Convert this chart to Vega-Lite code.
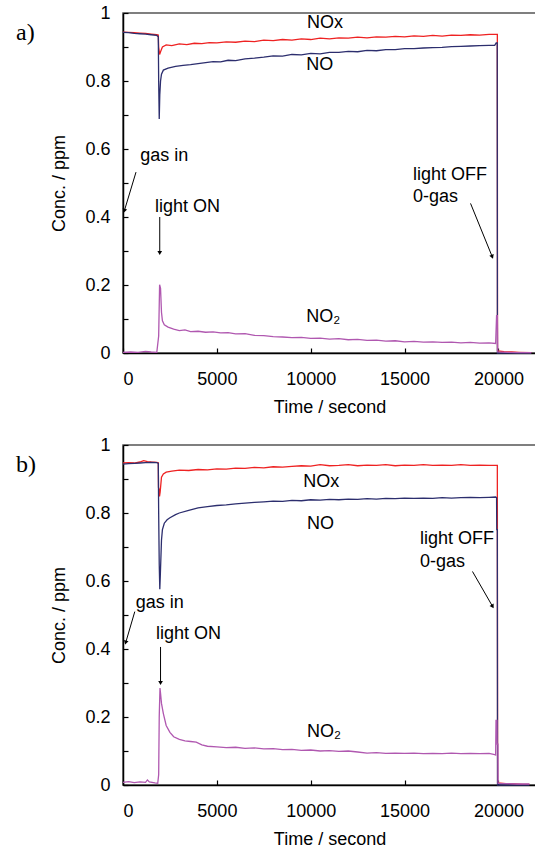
{
  "$schema": "https://vega.github.io/schema/vega-lite/v6.json",
  "padding": {"left": 15, "top": 3, "right": 0, "bottom": 5},
  "spacing": 18,
  "config": {
    "font": "Liberation Sans",
    "view": {"stroke": "#555", "strokeWidth": 1.5},
    "axis": {"grid": false, "domainColor": "#000", "domainWidth": 1.5, "tickColor": "#000", "tickWidth": 1.2, "tickSize": -5, "labelFont": "Liberation Sans", "labelFontSize": 18, "labelColor": "#000", "titleFont": "Liberation Sans", "titleFontSize": 18, "titleFontWeight": "normal", "titleColor": "#000"},
    "text": {"font": "Liberation Sans", "fontSize": 18, "color": "#000"}
  },
  "datasets": {
    "series": [
      {"panel":"a","series":"NOx","t":0,"c":0.944},{"panel":"a","series":"NOx","t":300,"c":0.943},{"panel":"a","series":"NOx","t":600,"c":0.942},{"panel":"a","series":"NOx","t":900,"c":0.941},{"panel":"a","series":"NOx","t":1200,"c":0.940},{"panel":"a","series":"NOx","t":1500,"c":0.938},{"panel":"a","series":"NOx","t":1800,"c":0.936},{"panel":"a","series":"NOx","t":1880,"c":0.935},{"panel":"a","series":"NOx","t":1900,"c":0.900},{"panel":"a","series":"NOx","t":1950,"c":0.878},{"panel":"a","series":"NOx","t":2000,"c":0.886},{"panel":"a","series":"NOx","t":2100,"c":0.900},{"panel":"a","series":"NOx","t":2300,"c":0.906},{"panel":"a","series":"NOx","t":2600,"c":0.904},{"panel":"a","series":"NOx","t":3000,"c":0.909},{"panel":"a","series":"NOx","t":3400,"c":0.907},{"panel":"a","series":"NOx","t":3800,"c":0.911},{"panel":"a","series":"NOx","t":4200,"c":0.910},{"panel":"a","series":"NOx","t":4600,"c":0.913},{"panel":"a","series":"NOx","t":5000,"c":0.912},{"panel":"a","series":"NOx","t":5500,"c":0.915},{"panel":"a","series":"NOx","t":6000,"c":0.914},{"panel":"a","series":"NOx","t":6500,"c":0.917},{"panel":"a","series":"NOx","t":7000,"c":0.916},{"panel":"a","series":"NOx","t":7500,"c":0.920},{"panel":"a","series":"NOx","t":8000,"c":0.919},{"panel":"a","series":"NOx","t":8500,"c":0.922},{"panel":"a","series":"NOx","t":9000,"c":0.920},{"panel":"a","series":"NOx","t":9500,"c":0.924},{"panel":"a","series":"NOx","t":10000,"c":0.922},{"panel":"a","series":"NOx","t":10500,"c":0.926},{"panel":"a","series":"NOx","t":11000,"c":0.924},{"panel":"a","series":"NOx","t":11500,"c":0.927},{"panel":"a","series":"NOx","t":12000,"c":0.926},{"panel":"a","series":"NOx","t":12500,"c":0.929},{"panel":"a","series":"NOx","t":13000,"c":0.927},{"panel":"a","series":"NOx","t":13500,"c":0.930},{"panel":"a","series":"NOx","t":14000,"c":0.929},{"panel":"a","series":"NOx","t":14500,"c":0.931},{"panel":"a","series":"NOx","t":15000,"c":0.930},{"panel":"a","series":"NOx","t":15500,"c":0.933},{"panel":"a","series":"NOx","t":16000,"c":0.931},{"panel":"a","series":"NOx","t":16500,"c":0.934},{"panel":"a","series":"NOx","t":17000,"c":0.932},{"panel":"a","series":"NOx","t":17500,"c":0.935},{"panel":"a","series":"NOx","t":18000,"c":0.934},{"panel":"a","series":"NOx","t":18500,"c":0.936},{"panel":"a","series":"NOx","t":19000,"c":0.935},{"panel":"a","series":"NOx","t":19500,"c":0.937},{"panel":"a","series":"NOx","t":19940,"c":0.937},{"panel":"a","series":"NOx","t":19950,"c":0.006},{"panel":"a","series":"NOx","t":20300,"c":0.004},{"panel":"a","series":"NOx","t":20700,"c":0.003},{"panel":"a","series":"NOx","t":21100,"c":0.002},{"panel":"a","series":"NOx","t":21750,"c":0.001},
      {"panel":"a","series":"NO","t":0,"c":0.943},{"panel":"a","series":"NO","t":300,"c":0.942},{"panel":"a","series":"NO","t":600,"c":0.940},{"panel":"a","series":"NO","t":900,"c":0.939},{"panel":"a","series":"NO","t":1200,"c":0.938},{"panel":"a","series":"NO","t":1500,"c":0.936},{"panel":"a","series":"NO","t":1800,"c":0.934},{"panel":"a","series":"NO","t":1880,"c":0.930},{"panel":"a","series":"NO","t":1900,"c":0.800},{"panel":"a","series":"NO","t":1930,"c":0.688},{"panel":"a","series":"NO","t":1960,"c":0.760},{"panel":"a","series":"NO","t":2000,"c":0.800},{"panel":"a","series":"NO","t":2050,"c":0.820},{"panel":"a","series":"NO","t":2150,"c":0.832},{"panel":"a","series":"NO","t":2400,"c":0.838},{"panel":"a","series":"NO","t":2800,"c":0.843},{"panel":"a","series":"NO","t":3200,"c":0.846},{"panel":"a","series":"NO","t":3600,"c":0.848},{"panel":"a","series":"NO","t":4000,"c":0.851},{"panel":"a","series":"NO","t":4400,"c":0.854},{"panel":"a","series":"NO","t":4800,"c":0.857},{"panel":"a","series":"NO","t":5200,"c":0.856},{"panel":"a","series":"NO","t":5600,"c":0.861},{"panel":"a","series":"NO","t":6000,"c":0.860},{"panel":"a","series":"NO","t":6500,"c":0.865},{"panel":"a","series":"NO","t":7000,"c":0.867},{"panel":"a","series":"NO","t":7500,"c":0.870},{"panel":"a","series":"NO","t":8000,"c":0.874},{"panel":"a","series":"NO","t":8500,"c":0.873},{"panel":"a","series":"NO","t":9000,"c":0.878},{"panel":"a","series":"NO","t":9500,"c":0.877},{"panel":"a","series":"NO","t":10000,"c":0.881},{"panel":"a","series":"NO","t":10500,"c":0.880},{"panel":"a","series":"NO","t":11000,"c":0.884},{"panel":"a","series":"NO","t":11500,"c":0.884},{"panel":"a","series":"NO","t":12000,"c":0.887},{"panel":"a","series":"NO","t":12500,"c":0.886},{"panel":"a","series":"NO","t":13000,"c":0.890},{"panel":"a","series":"NO","t":13500,"c":0.889},{"panel":"a","series":"NO","t":14000,"c":0.892},{"panel":"a","series":"NO","t":14500,"c":0.892},{"panel":"a","series":"NO","t":15000,"c":0.895},{"panel":"a","series":"NO","t":15500,"c":0.895},{"panel":"a","series":"NO","t":16000,"c":0.897},{"panel":"a","series":"NO","t":16500,"c":0.898},{"panel":"a","series":"NO","t":17000,"c":0.899},{"panel":"a","series":"NO","t":17500,"c":0.901},{"panel":"a","series":"NO","t":18000,"c":0.902},{"panel":"a","series":"NO","t":18500,"c":0.903},{"panel":"a","series":"NO","t":19000,"c":0.904},{"panel":"a","series":"NO","t":19500,"c":0.905},{"panel":"a","series":"NO","t":19800,"c":0.905},{"panel":"a","series":"NO","t":19880,"c":0.912},{"panel":"a","series":"NO","t":19935,"c":0.912},{"panel":"a","series":"NO","t":19945,"c":0.0},{"panel":"a","series":"NO","t":21750,"c":0.0},
      {"panel":"a","series":"NO2","t":0,"c":0.002},{"panel":"a","series":"NO2","t":400,"c":0.003},{"panel":"a","series":"NO2","t":800,"c":0.002},{"panel":"a","series":"NO2","t":1200,"c":0.005},{"panel":"a","series":"NO2","t":1500,"c":0.003},{"panel":"a","series":"NO2","t":1800,"c":0.002},{"panel":"a","series":"NO2","t":1900,"c":0.050},{"panel":"a","series":"NO2","t":1950,"c":0.201},{"panel":"a","series":"NO2","t":2000,"c":0.190},{"panel":"a","series":"NO2","t":2050,"c":0.120},{"panel":"a","series":"NO2","t":2100,"c":0.095},{"panel":"a","series":"NO2","t":2200,"c":0.083},{"panel":"a","series":"NO2","t":2400,"c":0.076},{"panel":"a","series":"NO2","t":2700,"c":0.070},{"panel":"a","series":"NO2","t":3000,"c":0.066},{"panel":"a","series":"NO2","t":3300,"c":0.068},{"panel":"a","series":"NO2","t":3600,"c":0.063},{"panel":"a","series":"NO2","t":4000,"c":0.064},{"panel":"a","series":"NO2","t":4400,"c":0.061},{"panel":"a","series":"NO2","t":4800,"c":0.062},{"panel":"a","series":"NO2","t":5200,"c":0.059},{"panel":"a","series":"NO2","t":5600,"c":0.060},{"panel":"a","series":"NO2","t":6000,"c":0.056},{"panel":"a","series":"NO2","t":6500,"c":0.057},{"panel":"a","series":"NO2","t":7000,"c":0.052},{"panel":"a","series":"NO2","t":7500,"c":0.051},{"panel":"a","series":"NO2","t":8000,"c":0.048},{"panel":"a","series":"NO2","t":8500,"c":0.047},{"panel":"a","series":"NO2","t":9000,"c":0.045},{"panel":"a","series":"NO2","t":9500,"c":0.046},{"panel":"a","series":"NO2","t":10000,"c":0.043},{"panel":"a","series":"NO2","t":10500,"c":0.044},{"panel":"a","series":"NO2","t":11000,"c":0.041},{"panel":"a","series":"NO2","t":11500,"c":0.042},{"panel":"a","series":"NO2","t":12000,"c":0.039},{"panel":"a","series":"NO2","t":12500,"c":0.040},{"panel":"a","series":"NO2","t":13000,"c":0.037},{"panel":"a","series":"NO2","t":13500,"c":0.038},{"panel":"a","series":"NO2","t":14000,"c":0.035},{"panel":"a","series":"NO2","t":14500,"c":0.036},{"panel":"a","series":"NO2","t":15000,"c":0.033},{"panel":"a","series":"NO2","t":15500,"c":0.034},{"panel":"a","series":"NO2","t":16000,"c":0.032},{"panel":"a","series":"NO2","t":16500,"c":0.033},{"panel":"a","series":"NO2","t":17000,"c":0.031},{"panel":"a","series":"NO2","t":17500,"c":0.032},{"panel":"a","series":"NO2","t":18000,"c":0.030},{"panel":"a","series":"NO2","t":18500,"c":0.031},{"panel":"a","series":"NO2","t":19000,"c":0.029},{"panel":"a","series":"NO2","t":19500,"c":0.030},{"panel":"a","series":"NO2","t":19850,"c":0.028},{"panel":"a","series":"NO2","t":19900,"c":0.110},{"panel":"a","series":"NO2","t":19940,"c":0.110},{"panel":"a","series":"NO2","t":19960,"c":0.003},{"panel":"a","series":"NO2","t":20500,"c":0.002},{"panel":"a","series":"NO2","t":21000,"c":0.001},{"panel":"a","series":"NO2","t":21750,"c":0.001},
      {"panel":"b","series":"NOx","t":0,"c":0.947},{"panel":"b","series":"NOx","t":300,"c":0.948},{"panel":"b","series":"NOx","t":600,"c":0.947},{"panel":"b","series":"NOx","t":900,"c":0.950},{"panel":"b","series":"NOx","t":1100,"c":0.954},{"panel":"b","series":"NOx","t":1300,"c":0.951},{"panel":"b","series":"NOx","t":1500,"c":0.950},{"panel":"b","series":"NOx","t":1800,"c":0.949},{"panel":"b","series":"NOx","t":1880,"c":0.948},{"panel":"b","series":"NOx","t":1890,"c":0.875},{"panel":"b","series":"NOx","t":1920,"c":0.870},{"panel":"b","series":"NOx","t":1945,"c":0.849},{"panel":"b","series":"NOx","t":1980,"c":0.862},{"panel":"b","series":"NOx","t":2050,"c":0.905},{"panel":"b","series":"NOx","t":2150,"c":0.915},{"panel":"b","series":"NOx","t":2300,"c":0.920},{"panel":"b","series":"NOx","t":2600,"c":0.923},{"panel":"b","series":"NOx","t":3000,"c":0.926},{"panel":"b","series":"NOx","t":3500,"c":0.925},{"panel":"b","series":"NOx","t":4000,"c":0.928},{"panel":"b","series":"NOx","t":4500,"c":0.927},{"panel":"b","series":"NOx","t":5000,"c":0.930},{"panel":"b","series":"NOx","t":5500,"c":0.929},{"panel":"b","series":"NOx","t":6000,"c":0.932},{"panel":"b","series":"NOx","t":6500,"c":0.931},{"panel":"b","series":"NOx","t":7000,"c":0.934},{"panel":"b","series":"NOx","t":7500,"c":0.933},{"panel":"b","series":"NOx","t":8000,"c":0.936},{"panel":"b","series":"NOx","t":8500,"c":0.935},{"panel":"b","series":"NOx","t":9000,"c":0.937},{"panel":"b","series":"NOx","t":9500,"c":0.939},{"panel":"b","series":"NOx","t":10000,"c":0.938},{"panel":"b","series":"NOx","t":10500,"c":0.942},{"panel":"b","series":"NOx","t":11000,"c":0.939},{"panel":"b","series":"NOx","t":11500,"c":0.940},{"panel":"b","series":"NOx","t":12000,"c":0.942},{"panel":"b","series":"NOx","t":12500,"c":0.939},{"panel":"b","series":"NOx","t":13000,"c":0.941},{"panel":"b","series":"NOx","t":13500,"c":0.940},{"panel":"b","series":"NOx","t":14000,"c":0.942},{"panel":"b","series":"NOx","t":14500,"c":0.939},{"panel":"b","series":"NOx","t":15000,"c":0.941},{"panel":"b","series":"NOx","t":15500,"c":0.940},{"panel":"b","series":"NOx","t":16000,"c":0.942},{"panel":"b","series":"NOx","t":16500,"c":0.940},{"panel":"b","series":"NOx","t":17000,"c":0.941},{"panel":"b","series":"NOx","t":17500,"c":0.940},{"panel":"b","series":"NOx","t":18000,"c":0.942},{"panel":"b","series":"NOx","t":18500,"c":0.940},{"panel":"b","series":"NOx","t":19000,"c":0.941},{"panel":"b","series":"NOx","t":19500,"c":0.940},{"panel":"b","series":"NOx","t":19940,"c":0.940},{"panel":"b","series":"NOx","t":19955,"c":0.006},{"panel":"b","series":"NOx","t":20400,"c":0.004},{"panel":"b","series":"NOx","t":20900,"c":0.003},{"panel":"b","series":"NOx","t":21300,"c":0.002},{"panel":"b","series":"NOx","t":21650,"c":0.002},
      {"panel":"b","series":"NO","t":0,"c":0.944},{"panel":"b","series":"NO","t":300,"c":0.945},{"panel":"b","series":"NO","t":600,"c":0.946},{"panel":"b","series":"NO","t":900,"c":0.947},{"panel":"b","series":"NO","t":1200,"c":0.948},{"panel":"b","series":"NO","t":1500,"c":0.949},{"panel":"b","series":"NO","t":1800,"c":0.948},{"panel":"b","series":"NO","t":1880,"c":0.946},{"panel":"b","series":"NO","t":1900,"c":0.800},{"panel":"b","series":"NO","t":1930,"c":0.650},{"panel":"b","series":"NO","t":1960,"c":0.576},{"panel":"b","series":"NO","t":1990,"c":0.620},{"panel":"b","series":"NO","t":2050,"c":0.720},{"panel":"b","series":"NO","t":2100,"c":0.751},{"panel":"b","series":"NO","t":2200,"c":0.770},{"panel":"b","series":"NO","t":2350,"c":0.780},{"panel":"b","series":"NO","t":2500,"c":0.786},{"panel":"b","series":"NO","t":2800,"c":0.795},{"panel":"b","series":"NO","t":3000,"c":0.800},{"panel":"b","series":"NO","t":3500,"c":0.808},{"panel":"b","series":"NO","t":4000,"c":0.815},{"panel":"b","series":"NO","t":4500,"c":0.819},{"panel":"b","series":"NO","t":5000,"c":0.822},{"panel":"b","series":"NO","t":5500,"c":0.824},{"panel":"b","series":"NO","t":6000,"c":0.827},{"panel":"b","series":"NO","t":6500,"c":0.829},{"panel":"b","series":"NO","t":7000,"c":0.831},{"panel":"b","series":"NO","t":7500,"c":0.833},{"panel":"b","series":"NO","t":8000,"c":0.835},{"panel":"b","series":"NO","t":8500,"c":0.834},{"panel":"b","series":"NO","t":9000,"c":0.837},{"panel":"b","series":"NO","t":9500,"c":0.836},{"panel":"b","series":"NO","t":10000,"c":0.839},{"panel":"b","series":"NO","t":10500,"c":0.838},{"panel":"b","series":"NO","t":11000,"c":0.840},{"panel":"b","series":"NO","t":11500,"c":0.839},{"panel":"b","series":"NO","t":12000,"c":0.841},{"panel":"b","series":"NO","t":12500,"c":0.840},{"panel":"b","series":"NO","t":13000,"c":0.842},{"panel":"b","series":"NO","t":13500,"c":0.841},{"panel":"b","series":"NO","t":14000,"c":0.843},{"panel":"b","series":"NO","t":14500,"c":0.842},{"panel":"b","series":"NO","t":15000,"c":0.844},{"panel":"b","series":"NO","t":15500,"c":0.843},{"panel":"b","series":"NO","t":16000,"c":0.844},{"panel":"b","series":"NO","t":16500,"c":0.843},{"panel":"b","series":"NO","t":17000,"c":0.845},{"panel":"b","series":"NO","t":17500,"c":0.844},{"panel":"b","series":"NO","t":18000,"c":0.845},{"panel":"b","series":"NO","t":18500,"c":0.846},{"panel":"b","series":"NO","t":19000,"c":0.845},{"panel":"b","series":"NO","t":19500,"c":0.846},{"panel":"b","series":"NO","t":19850,"c":0.847},{"panel":"b","series":"NO","t":19900,"c":0.845},{"panel":"b","series":"NO","t":19910,"c":0.751},{"panel":"b","series":"NO","t":19940,"c":0.751},{"panel":"b","series":"NO","t":19950,"c":0.0},{"panel":"b","series":"NO","t":21650,"c":0.0},
      {"panel":"b","series":"NO2","t":0,"c":0.008},{"panel":"b","series":"NO2","t":300,"c":0.010},{"panel":"b","series":"NO2","t":600,"c":0.007},{"panel":"b","series":"NO2","t":900,"c":0.009},{"panel":"b","series":"NO2","t":1200,"c":0.008},{"panel":"b","series":"NO2","t":1300,"c":0.015},{"panel":"b","series":"NO2","t":1400,"c":0.009},{"panel":"b","series":"NO2","t":1700,"c":0.006},{"panel":"b","series":"NO2","t":1850,"c":0.005},{"panel":"b","series":"NO2","t":1900,"c":0.030},{"panel":"b","series":"NO2","t":1930,"c":0.200},{"panel":"b","series":"NO2","t":1970,"c":0.285},{"panel":"b","series":"NO2","t":2000,"c":0.270},{"panel":"b","series":"NO2","t":2050,"c":0.240},{"panel":"b","series":"NO2","t":2150,"c":0.210},{"panel":"b","series":"NO2","t":2300,"c":0.175},{"panel":"b","series":"NO2","t":2500,"c":0.155},{"panel":"b","series":"NO2","t":2700,"c":0.142},{"panel":"b","series":"NO2","t":3000,"c":0.134},{"panel":"b","series":"NO2","t":3300,"c":0.130},{"panel":"b","series":"NO2","t":3600,"c":0.128},{"panel":"b","series":"NO2","t":3900,"c":0.126},{"panel":"b","series":"NO2","t":4200,"c":0.118},{"panel":"b","series":"NO2","t":4500,"c":0.114},{"panel":"b","series":"NO2","t":5000,"c":0.112},{"panel":"b","series":"NO2","t":5500,"c":0.110},{"panel":"b","series":"NO2","t":6000,"c":0.111},{"panel":"b","series":"NO2","t":6500,"c":0.108},{"panel":"b","series":"NO2","t":7000,"c":0.109},{"panel":"b","series":"NO2","t":7500,"c":0.106},{"panel":"b","series":"NO2","t":8000,"c":0.107},{"panel":"b","series":"NO2","t":8500,"c":0.104},{"panel":"b","series":"NO2","t":9000,"c":0.105},{"panel":"b","series":"NO2","t":9500,"c":0.102},{"panel":"b","series":"NO2","t":10000,"c":0.103},{"panel":"b","series":"NO2","t":10500,"c":0.100},{"panel":"b","series":"NO2","t":11000,"c":0.101},{"panel":"b","series":"NO2","t":11500,"c":0.099},{"panel":"b","series":"NO2","t":12000,"c":0.100},{"panel":"b","series":"NO2","t":12500,"c":0.097},{"panel":"b","series":"NO2","t":13000,"c":0.094},{"panel":"b","series":"NO2","t":13500,"c":0.095},{"panel":"b","series":"NO2","t":14000,"c":0.093},{"panel":"b","series":"NO2","t":14500,"c":0.094},{"panel":"b","series":"NO2","t":15000,"c":0.093},{"panel":"b","series":"NO2","t":15500,"c":0.094},{"panel":"b","series":"NO2","t":16000,"c":0.092},{"panel":"b","series":"NO2","t":16500,"c":0.093},{"panel":"b","series":"NO2","t":17000,"c":0.092},{"panel":"b","series":"NO2","t":17500,"c":0.094},{"panel":"b","series":"NO2","t":18000,"c":0.092},{"panel":"b","series":"NO2","t":18500,"c":0.093},{"panel":"b","series":"NO2","t":19000,"c":0.092},{"panel":"b","series":"NO2","t":19500,"c":0.093},{"panel":"b","series":"NO2","t":19800,"c":0.089},{"panel":"b","series":"NO2","t":19850,"c":0.088},{"panel":"b","series":"NO2","t":19870,"c":0.190},{"panel":"b","series":"NO2","t":19920,"c":0.190},{"panel":"b","series":"NO2","t":19930,"c":0.120},{"panel":"b","series":"NO2","t":19970,"c":0.120},{"panel":"b","series":"NO2","t":19980,"c":0.005},{"panel":"b","series":"NO2","t":20500,"c":0.004},{"panel":"b","series":"NO2","t":21000,"c":0.003},{"panel":"b","series":"NO2","t":21650,"c":0.003}
    ],
    "labels": [
      {"panel":"a","text":"NOx","t":9808,"c":0.971},
      {"panel":"a","text":"NO","t":9755,"c":0.847},
      {"panel":"a","text":"NO₂","t":9755,"c":0.106},
      {"panel":"a","text":"gas in","t":922,"c":0.58},
      {"panel":"a","text":"light ON","t":1706,"c":0.43},
      {"panel":"a","text":"light OFF","t":15442,"c":0.523},
      {"panel":"a","text":"0-gas","t":15442,"c":0.458},
      {"panel":"b","text":"NOx","t":9603,"c":0.891},
      {"panel":"b","text":"NO","t":9800,"c":0.768},
      {"panel":"b","text":"NO₂","t":9800,"c":0.155},
      {"panel":"b","text":"gas in","t":681,"c":0.535},
      {"panel":"b","text":"light ON","t":1754,"c":0.444},
      {"panel":"b","text":"light OFF","t":15826,"c":0.724},
      {"panel":"b","text":"0-gas","t":15826,"c":0.656}
    ],
    "arrows": [
      {"panel":"a","arrow":"gasin","t":693,"c":0.532,"t2":70,"c2":0.418},
      {"panel":"a","arrow":"on","t":1957,"c":0.40,"t2":1957,"c2":0.294},
      {"panel":"a","arrow":"off","t":18513,"c":0.44,"t2":19670,"c2":0.283},
      {"panel":"b","arrow":"gasin","t":628,"c":0.51,"t2":145,"c2":0.419},
      {"panel":"b","arrow":"on","t":2000,"c":0.406,"t2":2000,"c2":0.30},
      {"panel":"b","arrow":"off","t":18616,"c":0.628,"t2":19689,"c2":0.525}
    ],
    "panels": [
      {"panel":"a","name":"a)","t":-5700,"c":0.94},
      {"panel":"b","name":"b)","t":-5700,"c":0.94}
    ]
  },
  "vconcat": [
    {
      "width": 413, "height": 340,
      "encoding": {
        "x": {"field":"t","type":"quantitative","scale":{"domain":[0,22000],"nice":false,"zero":false},"axis":{"values":[0,5000,10000,15000,20000],"format":"d","title":"Time / second","labelPadding":22,"titlePadding":10}},
        "y": {"field":"c","type":"quantitative","scale":{"domain":[0,1],"nice":false},"axis":{"values":[0,0.1,0.2,0.3,0.4,0.5,0.6,0.7,0.8,0.9,1],"labelExpr":"round(datum.value*10)%2==0 ? format(datum.value,'~g') : ''","title":"Conc. / ppm","labelPadding":18,"titlePadding":16}}
      },
      "layer": [
        {"data":{"name":"series"},"transform":[{"filter":"datum.panel=='a'"}],"mark":{"type":"line","strokeWidth":1.3,"interpolate":"linear"},
         "encoding":{"color":{"field":"series","type":"nominal","scale":{"domain":["NOx","NO","NO2"],"range":["#ee2222","#2c2e6e","#b058b0"]},"legend":null},"order":{"field":"t","type":"quantitative"}}},
        {"data":{"name":"labels"},"transform":[{"filter":"datum.panel=='a'"}],"mark":{"type":"text","align":"left","baseline":"middle"},"encoding":{"text":{"field":"text"}}},
        {"data":{"name":"panels"},"transform":[{"filter":"datum.panel=='a'"}],"mark":{"type":"text","align":"left","baseline":"middle","font":"Liberation Serif","fontSize":24},"encoding":{"text":{"field":"name"}}},
        {"data":{"name":"arrows"},"transform":[{"filter":"datum.panel=='a'"}],"mark":{"type":"rule","color":"#000","strokeWidth":1},"encoding":{"x2":{"field":"t2"},"y2":{"field":"c2"}}},
        {"data":{"name":"arrows"},"transform":[{"filter":"datum.panel=='a' && datum.arrow=='gasin'"}],"mark":{"type":"point","shape":"triangle-down","filled":true,"color":"#000","size":22,"angle":17,"opacity":1},"encoding":{"x":{"field":"t2","type":"quantitative"},"y":{"field":"c2","type":"quantitative"}}},
        {"data":{"name":"arrows"},"transform":[{"filter":"datum.panel=='a' && datum.arrow=='on'"}],"mark":{"type":"point","shape":"triangle-down","filled":true,"color":"#000","size":22,"angle":0,"opacity":1},"encoding":{"x":{"field":"t2","type":"quantitative"},"y":{"field":"c2","type":"quantitative"}}},
        {"data":{"name":"arrows"},"transform":[{"filter":"datum.panel=='a' && datum.arrow=='off'"}],"mark":{"type":"point","shape":"triangle-down","filled":true,"color":"#000","size":22,"angle":338,"opacity":1},"encoding":{"x":{"field":"t2","type":"quantitative"},"y":{"field":"c2","type":"quantitative"}}}
      ]
    },
    {
      "width": 413, "height": 340,
      "encoding": {
        "x": {"field":"t","type":"quantitative","scale":{"domain":[0,22000],"nice":false,"zero":false},"axis":{"values":[0,5000,10000,15000,20000],"format":"d","title":"Time / second","labelPadding":22,"titlePadding":10}},
        "y": {"field":"c","type":"quantitative","scale":{"domain":[0,1],"nice":false},"axis":{"values":[0,0.1,0.2,0.3,0.4,0.5,0.6,0.7,0.8,0.9,1],"labelExpr":"round(datum.value*10)%2==0 ? format(datum.value,'~g') : ''","title":"Conc. / ppm","labelPadding":18,"titlePadding":16}}
      },
      "layer": [
        {"data":{"name":"series"},"transform":[{"filter":"datum.panel=='b'"}],"mark":{"type":"line","strokeWidth":1.3,"interpolate":"linear"},
         "encoding":{"color":{"field":"series","type":"nominal","scale":{"domain":["NOx","NO","NO2"],"range":["#ee2222","#2c2e6e","#b058b0"]},"legend":null},"order":{"field":"t","type":"quantitative"}}},
        {"data":{"name":"labels"},"transform":[{"filter":"datum.panel=='b'"}],"mark":{"type":"text","align":"left","baseline":"middle"},"encoding":{"text":{"field":"text"}}},
        {"data":{"name":"panels"},"transform":[{"filter":"datum.panel=='b'"}],"mark":{"type":"text","align":"left","baseline":"middle","font":"Liberation Serif","fontSize":24},"encoding":{"text":{"field":"name"}}},
        {"data":{"name":"arrows"},"transform":[{"filter":"datum.panel=='b'"}],"mark":{"type":"rule","color":"#000","strokeWidth":1},"encoding":{"x2":{"field":"t2"},"y2":{"field":"c2"}}},
        {"data":{"name":"arrows"},"transform":[{"filter":"datum.panel=='b' && datum.arrow=='gasin'"}],"mark":{"type":"point","shape":"triangle-down","filled":true,"color":"#000","size":22,"angle":16,"opacity":1},"encoding":{"x":{"field":"t2","type":"quantitative"},"y":{"field":"c2","type":"quantitative"}}},
        {"data":{"name":"arrows"},"transform":[{"filter":"datum.panel=='b' && datum.arrow=='on'"}],"mark":{"type":"point","shape":"triangle-down","filled":true,"color":"#000","size":22,"angle":0,"opacity":1},"encoding":{"x":{"field":"t2","type":"quantitative"},"y":{"field":"c2","type":"quantitative"}}},
        {"data":{"name":"arrows"},"transform":[{"filter":"datum.panel=='b' && datum.arrow=='off'"}],"mark":{"type":"point","shape":"triangle-down","filled":true,"color":"#000","size":22,"angle":330,"opacity":1},"encoding":{"x":{"field":"t2","type":"quantitative"},"y":{"field":"c2","type":"quantitative"}}}
      ]
    }
  ]
}
